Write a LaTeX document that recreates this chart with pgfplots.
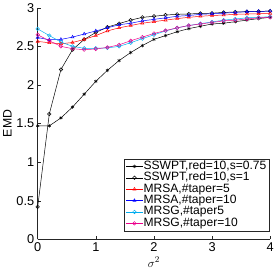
\documentclass[border=0pt]{standalone}
\usepackage{fontspec}
\setmainfont{Liberation Sans}
\usepackage{pgfplots}
\pgfplotsset{compat=1.18}
\definecolor{axgray}{rgb}{0.15,0.15,0.15}
\begin{document}
\begin{tikzpicture}
\begin{axis}[
  scale only axis,
  width=236bp, height=235bp,
  xmin=0, xmax=4, ymin=0, ymax=3,
  axis lines*=left,
  axis line style={axgray, line width=0.5pt},
  tick align=inside,
  tick style={axgray, line width=0.4pt},
  major tick length=3bp,
  xtick={0,1,2,3,4},
  ytick={0,0.5,1,1.5,2,2.5,3},
  yticklabels={0,0.5,1,1.5,2,2.5,3},
  /pgf/number format/assume math mode=true,
  ticklabel style={font=\fontsize{13}{14}\selectfont, text=black},
  xlabel={$\sigma^2$},
  ylabel={EMD},
  label style={font=\fontsize{12.5}{14}\selectfont},
  xlabel style={yshift=1.5bp},
  ylabel style={yshift=-2bp},
  every axis plot/.append style={line width=0.5pt, mark size=1.8pt},
  legend style={at={(rel axis cs:0.995,0.035)}, anchor=south east,
    font=\fontsize{12.3}{12.5}\selectfont, draw=axgray, line width=0.4pt,
    inner sep=2pt, row sep=0pt, legend cell align=left,
    nodes={inner sep=0.5pt, text height=8.2pt, text depth=2.4pt}},
  clip=false,
]
\addplot[black, mark=asterisk] coordinates {
(0,1.47)(0.2,1.47)(0.4,1.573)(0.6,1.714)(0.8,1.88)(1.0,2.047)(1.2,2.19)(1.4,2.316)(1.6,2.42)(1.8,2.51)(2.0,2.59)(2.2,2.64)(2.4,2.69)(2.6,2.73)(2.8,2.76)(3.0,2.79)(3.2,2.80)(3.4,2.82)(3.6,2.84)(3.8,2.86)(4.0,2.876)};
\addlegendentry{SSWPT,red=10,s=0.75}
\addplot[black, mark=o] coordinates {
(0,0.42)(0.2,1.624)(0.4,2.2)(0.6,2.457)(0.8,2.59)(1.0,2.68)(1.2,2.75)(1.4,2.795)(1.6,2.84)(1.8,2.876)(2.0,2.89)(2.2,2.906)(2.4,2.915)(2.6,2.92)(2.8,2.927)(3.0,2.93)(3.2,2.94)(3.4,2.945)(3.6,2.95)(3.8,2.953)(4.0,2.957)};
\addlegendentry{SSWPT,red=10,s=1}
\addplot[red, mark=triangle] coordinates {
(0,2.564)(0.2,2.547)(0.4,2.534)(0.6,2.55)(0.8,2.59)(1.0,2.64)(1.2,2.70)(1.4,2.74)(1.6,2.77)(1.8,2.80)(2.0,2.82)(2.2,2.84)(2.4,2.86)(2.6,2.876)(2.8,2.89)(3.0,2.90)(3.2,2.906)(3.4,2.915)(3.6,2.92)(3.8,2.923)(4.0,2.927)};
\addlegendentry{MRSA,\#taper=5}
\addplot[blue, mark=triangle] coordinates {
(0,2.615)(0.2,2.585)(0.4,2.59)(0.6,2.62)(0.8,2.66)(1.0,2.70)(1.2,2.74)(1.4,2.78)(1.6,2.80)(1.8,2.83)(2.0,2.85)(2.2,2.87)(2.4,2.89)(2.6,2.90)(2.8,2.915)(3.0,2.923)(3.2,2.93)(3.4,2.94)(3.6,2.95)(3.8,2.953)(4.0,2.957)};
\addlegendentry{MRSA,\#taper=10}
\addplot[cyan, mark=o] coordinates {
(0,2.726)(0.2,2.64)(0.4,2.556)(0.6,2.50)(0.8,2.475)(1.0,2.475)(1.2,2.48)(1.4,2.50)(1.6,2.547)(1.8,2.60)(2.0,2.65)(2.2,2.70)(2.4,2.74)(2.6,2.77)(2.8,2.795)(3.0,2.816)(3.2,2.84)(3.4,2.855)(3.6,2.87)(3.8,2.876)(4.0,2.885)};
\addlegendentry{MRSG,\#taper5}
\addplot[magenta, mark=o] coordinates {
(0,2.65)(0.2,2.573)(0.4,2.50)(0.6,2.47)(0.8,2.457)(1.0,2.466)(1.2,2.487)(1.4,2.52)(1.6,2.573)(1.8,2.62)(2.0,2.667)(2.2,2.705)(2.4,2.74)(2.6,2.77)(2.8,2.79)(3.0,2.81)(3.2,2.83)(3.4,2.84)(3.6,2.855)(3.8,2.87)(4.0,2.876)};
\addlegendentry{MRSG,\#taper=10}
\end{axis}
\end{tikzpicture}
\end{document}
